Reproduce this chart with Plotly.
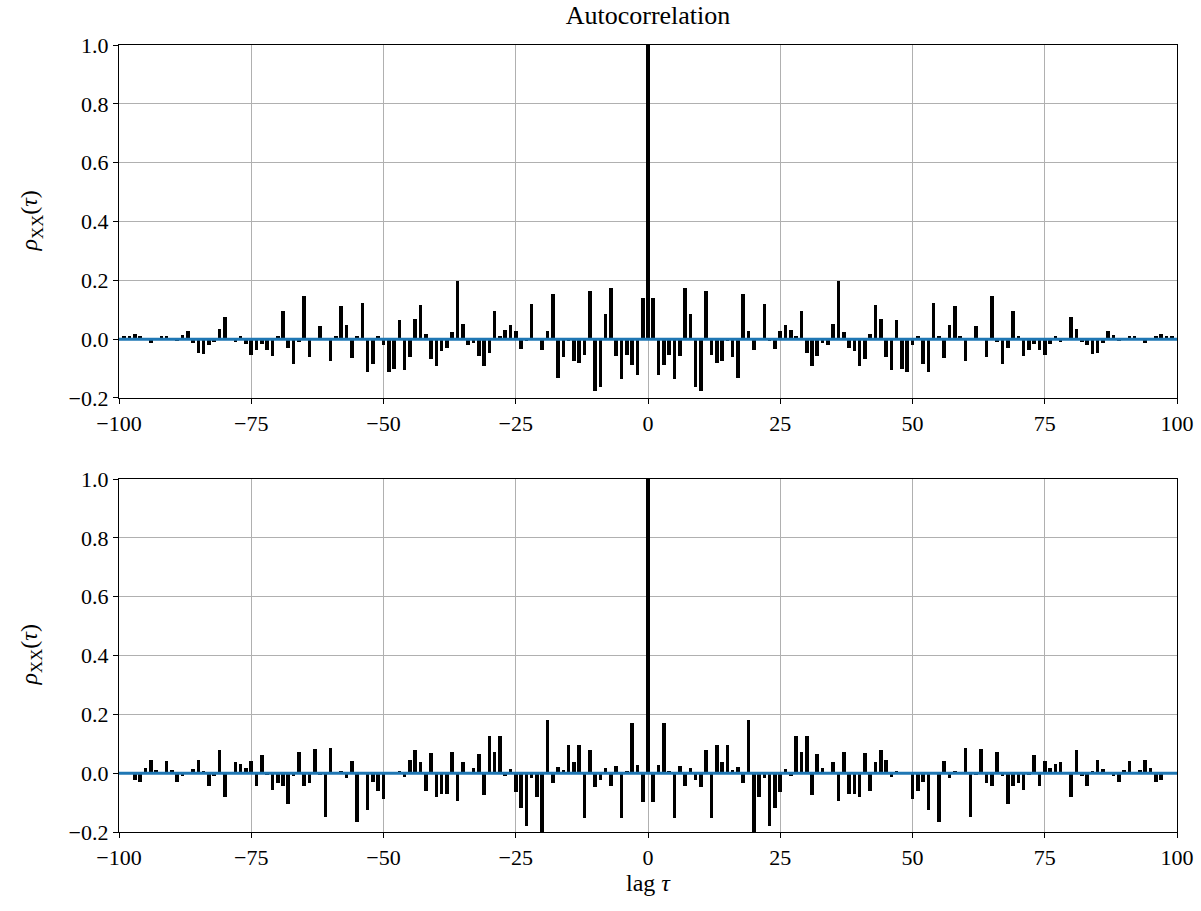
import plotly.graph_objects as go

# Autocorrelation values for positive lags 1..99 (symmetric about lag 0)
lags_pos = list(range(1, 100))
top_pos = [0.139, -0.122, -0.088, -0.054, -0.137, -0.058, 0.175, 0.086, -0.164, -0.175,
           0.163, -0.053, -0.082, -0.075, -0.005, -0.062, -0.131, 0.155, 0.027, -0.037,
           0.000, 0.118, -0.003, -0.033, 0.027, 0.047, 0.030, 0.011, 0.095, -0.046,
           -0.090, -0.056, -0.012, -0.020, 0.051, 0.197, 0.023, -0.029, -0.040, -0.092,
           -0.066, 0.016, 0.115, 0.067, -0.060, -0.105, 0.064, -0.103, -0.111, -0.020,
           0.009, -0.084, -0.112, 0.124, 0.012, -0.064, 0.047, 0.114, 0.009, -0.073,
           0.002, 0.043, -0.002, -0.060, 0.146, -0.009, -0.085, -0.031, 0.096, 0.012,
           -0.056, -0.038, -0.015, -0.037, -0.055, -0.015, 0.012, -0.010, 0.002, 0.076,
           0.036, -0.011, -0.020, -0.049, -0.046, -0.012, 0.027, 0.015, -0.008, 0.002,
           0.010, 0.009, 0.002, -0.014, 0.003, 0.012, 0.016, 0.012, 0.009]
bottom_pos = [-0.099, 0.026, 0.171, 0.007, -0.151, 0.023, -0.043, 0.018, -0.022, -0.046,
              0.077, -0.153, 0.097, 0.037, 0.094, 0.011, 0.021, -0.034, 0.179, -0.215,
              -0.082, -0.017, -0.178, -0.117, -0.065, 0.013, -0.009, 0.125, 0.073, 0.126,
              -0.073, 0.066, 0.016, 0.002, 0.037, -0.094, 0.073, -0.070, -0.071, -0.080,
              0.069, -0.059, 0.037, 0.080, 0.043, -0.014, 0.008, 0.002, -0.002, -0.089,
              -0.061, -0.031, -0.126, 0.002, -0.166, 0.042, -0.017, 0.006, 0.002, 0.085,
              -0.150, -0.005, 0.083, -0.033, -0.043, 0.071, -0.009, -0.105, -0.042, -0.034,
              -0.057, -0.005, 0.061, -0.042, 0.042, 0.019, 0.030, 0.038, 0.002, -0.082,
              0.078, -0.010, -0.043, 0.008, 0.045, 0.014, 0.002, -0.010, -0.030, 0.011,
              0.042, 0.002, 0.010, 0.043, 0.019, -0.030, -0.023, 0.000, 0.000]
zero_lag_value = 1.0

x_ticks = [-100, -75, -50, -25, 0, 25, 50, 75, 100]
y_ticks = [-0.2, 0.0, 0.2, 0.4, 0.6, 0.8, 1.0]

lags = [-l for l in reversed(lags_pos)] + [0] + lags_pos
top_vals = list(reversed(top_pos)) + [zero_lag_value] + top_pos
bottom_vals = list(reversed(bottom_pos)) + [zero_lag_value] + bottom_pos

FONT = "Liberation Serif"
fig = go.Figure()
fig.add_trace(go.Bar(x=lags, y=top_vals, width=0.68, marker=dict(color="black", line=dict(width=0)),
                     xaxis="x", yaxis="y", showlegend=False))
fig.add_trace(go.Bar(x=lags, y=bottom_vals, width=0.68, marker=dict(color="black", line=dict(width=0)),
                     xaxis="x2", yaxis="y2", showlegend=False))

axis_common = dict(
    showline=True, linecolor="black", linewidth=1.3, mirror=True,
    ticks="outside", ticklen=5, tickwidth=1.1, tickcolor="black",
    showgrid=True, gridcolor="#b0b0b0", gridwidth=1.1, automargin=False,
    zeroline=False, tickfont=dict(family=FONT, size=22, color="black"),
)
fig.update_layout(
    width=1201, height=911,
    margin=dict(l=119, r=24, t=45, b=79),
    plot_bgcolor="white", paper_bgcolor="white",
    bargap=0,
    xaxis=dict(domain=[0, 1], anchor="y", range=[-100, 100], tickvals=x_ticks, **axis_common),
    yaxis=dict(domain=[0.5515, 1], anchor="x", range=[-0.2, 1.0], tickvals=y_ticks, tickformat=".1f", **axis_common),
    xaxis2=dict(domain=[0, 1], anchor="y2", range=[-100, 100], tickvals=x_ticks, **axis_common),
    yaxis2=dict(domain=[0, 0.4485], anchor="x2", range=[-0.2, 1.0], tickvals=y_ticks, tickformat=".1f", **axis_common),
    title=dict(text="Autocorrelation", x=0.5, xref="paper", y=1 - 15 / 911, yref="container",
               yanchor="middle", xanchor="center", font=dict(family=FONT, size=26, color="black")),
)

# horizontal reference lines at 0 (matplotlib acorr style)
for xr, yr in (("x", "y"), ("x2", "y2")):
    fig.add_shape(type="line", xref=f"{xr} domain", yref=yr, x0=0, x1=1, y0=0, y1=0,
                  line=dict(color="#1f77b4", width=3), layer="above")

ylab = "<i>ρ</i><sub>XX</sub>(<i>τ</i>)"
for yc in (0.7757, 0.2243):
    fig.add_annotation(text=ylab, xref="paper", yref="paper", x=(31 - 119) / 1058, y=yc,
                       textangle=-90, showarrow=False, xanchor="center", yanchor="middle",
                       font=dict(family=FONT, size=24, color="black"))
fig.add_annotation(text="lag <i>τ</i>", xref="paper", yref="paper", x=0.5, y=(832 - 883) / 787,
                   showarrow=False, xanchor="center", yanchor="middle",
                   font=dict(family=FONT, size=24, color="black"))

fig.write_html("out.html", config={"displayModeBar": False},
               post_script="document.body.style.margin='0px';document.body.style.overflow='hidden';")
